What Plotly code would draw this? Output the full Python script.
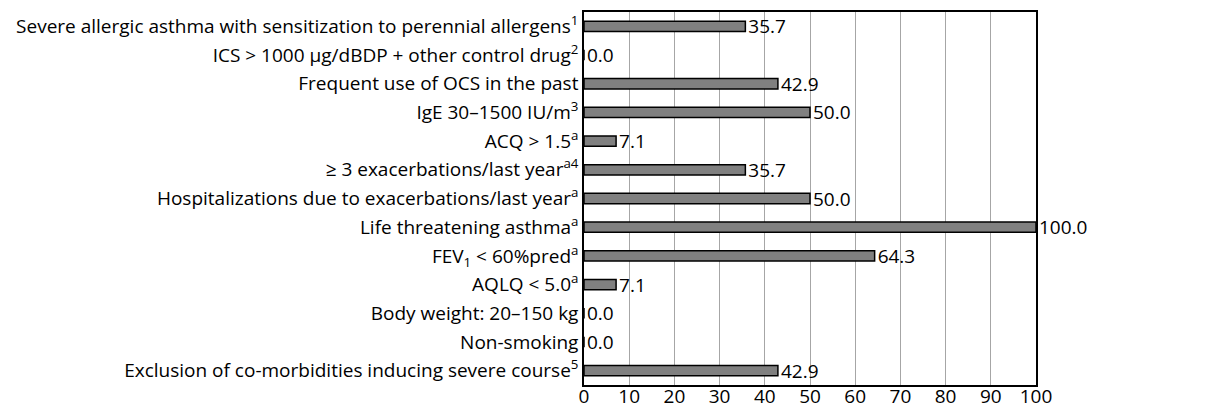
import plotly.graph_objects as go

categories = [
    "Severe allergic asthma with sensitization to perennial allergens<sup>1</sup>",
    "ICS > 1000 µg/dBDP + other control drug<sup>2</sup>",
    "Frequent use of OCS in the past",
    "IgE 30–1500 IU/m<sup>3</sup>",
    "ACQ > 1.5<sup>a</sup>",
    "≥ 3 exacerbations/last year<sup>a4</sup>",
    "Hospitalizations due to exacerbations/last year<sup>a</sup>",
    "Life threatening asthma<sup>a</sup>",
    "FEV<sub>1</sub> < 60%pred<sup>a</sup>",
    "AQLQ < 5.0<sup>a</sup>",
    "Body weight: 20–150 kg",
    "Non-smoking",
    "Exclusion of co-morbidities inducing severe course<sup>5</sup>",
]
values = [35.7, 0.0, 42.9, 50.0, 7.1, 35.7, 50.0, 100.0, 64.3, 7.1, 0.0, 0.0, 42.9]
x_ticks = [0, 10, 20, 30, 40, 50, 60, 70, 80, 90, 100]

FONT = "Open Sans"
FS = 19

fig = go.Figure(go.Bar(
    y=categories, x=values, orientation="h",
    marker=dict(color="#808080", line=dict(color="#000000", width=1.5)),
    width=0.36,
    text=[f"{v:.1f}" for v in values], textposition="outside",
    constraintext="none",
    textfont=dict(family=FONT, size=FS, color="#000000"),
    cliponaxis=False,
))

fig.update_layout(
    width=1219, height=401,
    margin=dict(l=576, r=191, t=4, b=24),
    paper_bgcolor="white", plot_bgcolor="white",
    font=dict(family=FONT, size=FS, color="#000000"),
    showlegend=False,
)
fig.update_xaxes(range=[0, 100], tickvals=x_ticks, showgrid=True, gridcolor="#a6a6a6", gridwidth=1,
                 showline=True, linecolor="#000000", linewidth=1.5, mirror=True, ticks="",
                 zeroline=False, tickfont=dict(family=FONT, size=FS), ticklabelstandoff=-7,
                 automargin=False)
fig.update_yaxes(autorange="reversed", showline=True, linecolor="#000000", linewidth=1.5, mirror=True,
                 ticks="", tickfont=dict(family=FONT, size=FS), ticklabelstandoff=0, automargin=False)

fig.write_html("out.html")
